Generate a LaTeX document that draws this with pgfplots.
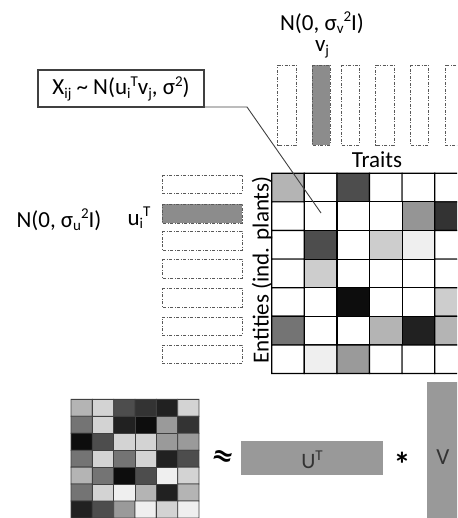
\documentclass[border=0pt]{standalone}
\usepackage{pgfplots}
\pgfplotsset{compat=1.18}
\usepackage{fontspec}
\setmainfont{Carlito}
\newfontfamily\dejavu{DejaVu Sans}
\newcommand\sub[1]{\raisebox{-0.35ex}{\fontsize{15}{15}\selectfont #1}}
\newcommand\sups[1]{\raisebox{0.75ex}{\fontsize{15}{15}\selectfont #1}}
\definecolor{dashgray}{gray}{0.35}
\definecolor{fillgray}{gray}{0.55}
\definecolor{boxgray}{gray}{0.6}
\definecolor{linegray}{gray}{0.25}
\begin{document}
\begin{tikzpicture}
\begin{axis}[scale only axis, width=457pt, height=518pt,
  xmin=0, xmax=457, ymin=0, ymax=518, y dir=reverse, hide axis, clip=true,
  colormap={bw}{gray(0cm)=(0) gray(1cm)=(1)},
  point meta min=0, point meta max=1]
% top data grid (7 rows x 6 cols)
\addplot[matrix plot*, mesh/cols=6, point meta=explicit, draw=black, line width=1.2pt] table[meta=c] {
x y c
288.0 187.6 0.70
320.6 187.6 1.00
353.2 187.6 0.30
385.8 187.6 1.00
418.4 187.6 1.00
451.0 187.6 1.00
288.0 216.2 1.00
320.6 216.2 1.00
353.2 216.2 1.00
385.8 216.2 1.00
418.4 216.2 0.58
451.0 216.2 0.20
288.0 244.8 1.00
320.6 244.8 0.30
353.2 244.8 1.00
385.8 244.8 0.80
418.4 244.8 0.93
451.0 244.8 1.00
288.0 273.4 1.00
320.6 273.4 0.80
353.2 273.4 1.00
385.8 273.4 1.00
418.4 273.4 1.00
451.0 273.4 1.00
288.0 302.0 1.00
320.6 302.0 1.00
353.2 302.0 0.05
385.8 302.0 1.00
418.4 302.0 1.00
451.0 302.0 0.80
288.0 330.6 0.45
320.6 330.6 1.00
353.2 330.6 1.00
385.8 330.6 0.70
418.4 330.6 0.13
451.0 330.6 0.70
288.0 359.2 1.00
320.6 359.2 0.93
353.2 359.2 0.60
385.8 359.2 1.00
418.4 359.2 1.00
451.0 359.2 1.00
};
% bottom approximated grid
\addplot[matrix plot*, mesh/cols=6, point meta=explicit, draw=linegray, line width=0.8pt] table[meta=c] {
x y c
81.7 407.8 0.70
103.0 407.8 0.82
124.3 407.8 0.30
145.7 407.8 0.20
167.0 407.8 0.13
188.3 407.8 0.82
81.7 424.7 0.45
103.0 424.7 0.82
124.3 424.7 0.13
145.7 424.7 0.05
167.0 424.7 0.60
188.3 424.7 0.20
81.7 441.7 0.05
103.0 441.7 0.30
124.3 441.7 0.82
145.7 441.7 0.82
167.0 441.7 0.60
188.3 441.7 0.60
81.7 458.6 0.45
103.0 458.6 0.82
124.3 458.6 0.45
145.7 458.6 0.82
167.0 458.6 0.13
188.3 458.6 0.30
81.7 475.6 0.70
103.0 475.6 0.45
124.3 475.6 0.05
145.7 475.6 0.30
167.0 475.6 0.93
188.3 475.6 0.82
81.7 492.5 0.45
103.0 492.5 0.82
124.3 492.5 0.93
145.7 492.5 0.70
167.0 492.5 0.13
188.3 492.5 0.70
81.7 509.5 0.13
103.0 509.5 0.30
124.3 509.5 0.60
145.7 509.5 0.93
167.0 509.5 0.82
188.3 509.5 0.93
};
% vertical v_j rectangles
\pgfplotsset{dashbox/.style={color=dashgray, line width=0.8pt, dash pattern=on 3pt off 1.5pt on 1pt off 1.5pt, mark=none}}
\addplot[dashbox] coordinates {(277.7,65) (296,65) (296,145) (277.7,145)} -- cycle;
\addplot[dashbox, fill=fillgray] coordinates {(312,65) (330,65) (330,145) (312,145)} -- cycle;
\addplot[dashbox] coordinates {(341,65) (359,65) (359,145) (341,145)} -- cycle;
\addplot[dashbox] coordinates {(375.7,65) (394,65) (394,145) (375.7,145)} -- cycle;
\addplot[dashbox] coordinates {(410,65) (428,65) (428,145) (410,145)} -- cycle;
\addplot[dashbox] coordinates {(463,65) (445,65) (445,145) (463,145)};
% horizontal u_i rectangles
\addplot[dashbox] coordinates {(162,175) (242,175) (242,193) (162,193)} -- cycle;
\addplot[dashbox, fill=fillgray] coordinates {(162,204) (242,204) (242,223) (162,223)} -- cycle;
\addplot[dashbox] coordinates {(162,231) (242,231) (242,250) (162,250)} -- cycle;
\addplot[dashbox] coordinates {(162,259) (242,259) (242,278) (162,278)} -- cycle;
\addplot[dashbox] coordinates {(162,288) (242,288) (242,307) (162,307)} -- cycle;
\addplot[dashbox] coordinates {(162,317) (242,317) (242,335) (162,335)} -- cycle;
\addplot[dashbox] coordinates {(162,345) (242,345) (242,363) (162,363)} -- cycle;
% formula box and pointer line
\addplot[linegray, line width=1.1pt, mark=none] coordinates {(38,70) (204,70) (204,107) (38,107)} -- cycle;
\addplot[linegray, line width=0.9pt, mark=none] coordinates {(204,107) (247,107) (321,213)};
% U^T and V factor boxes
\addplot[draw=none, fill=boxgray, mark=none] coordinates {(241,441) (383,441) (383,475) (241,475)} -- cycle;
\addplot[draw=none, fill=boxgray, mark=none] coordinates {(427,382) (470,382) (470,530) (427,530)} -- cycle;
% texts
\node[font=\fontsize{23}{26}\selectfont, inner sep=0pt] at (axis cs:322,23) {N(0, σ\sub{v}\sups{2}I)};
\node[font=\fontsize{23}{26}\selectfont, inner sep=0pt] at (axis cs:322,49) {v\sub{j}};
\node[font=\fontsize{23}{26}\selectfont] at (axis cs:377,160) {Traits};
\node[font=\fontsize{23}{26}\selectfont] at (axis cs:121,89) {X\sub{ij} \textasciitilde{} N(u\sub{i}\sups{T}v\sub{j}, σ\sups{2})};
\node[font=\fontsize{23}{26}\selectfont] at (axis cs:59,220) {N(0, σ\sub{u}\sups{2}I)};
\node[font=\fontsize{23}{26}\selectfont] at (axis cs:139,218) {u\sub{i}\sups{T}};
\node[font=\fontsize{23}{26}\selectfont, rotate=90] at (axis cs:262,270) {Entities (ind. plants)};
\node[font=\fontsize{26}{28}\selectfont\dejavu\bfseries, rotate=-15] at (axis cs:223,458) {≈};
\node[font=\fontsize{22}{26}\selectfont, color=black!80] at (axis cs:312,460) {U\sups{T}};
\node[font=\fontsize{34}{36}\selectfont\bfseries] at (axis cs:402,464) {*};
\node[font=\fontsize{23}{26}\selectfont, color=black!80] at (axis cs:443,457) {V};
\end{axis}
\pgfresetboundingbox
\useasboundingbox (current axis.south west) rectangle (current axis.north east);
\end{tikzpicture}
\end{document}
